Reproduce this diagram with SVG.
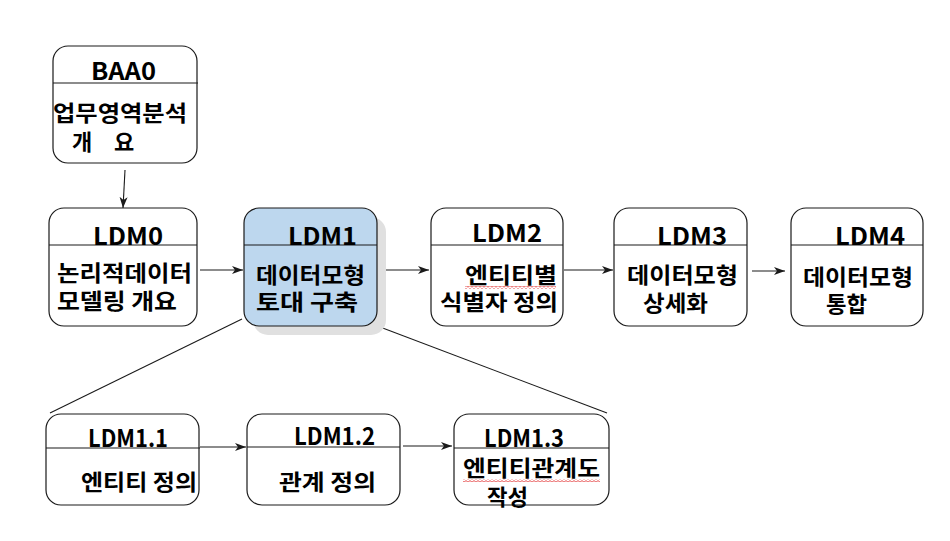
<svg xmlns="http://www.w3.org/2000/svg" width="950" height="541" viewBox="0 0 950 541">
<style>
.box{fill:#ffffff;stroke:#1a1a1a;stroke-width:1.2}
.div{stroke:#1a1a1a;stroke-width:1.2}
.t{font-family:"Noto Sans CJK KR","Liberation Sans",sans-serif;font-size:24px;font-weight:bold;fill:#000}
.k{font-family:"Noto Sans CJK KR","Liberation Sans",sans-serif;font-size:22px;font-weight:bold;fill:#000}
.c{stroke:#1a1a1a;stroke-width:1.1;fill:none}
.wave{fill:url(#wv)}
</style>
<defs>
<marker id="ah" markerWidth="12" markerHeight="10" refX="11" refY="5" orient="auto" markerUnits="userSpaceOnUse">
<path d="M0,1 L11,5 L0,9 L3,5 z" fill="#1a1a1a"/>
</marker>
<pattern id="wv" width="4" height="3" patternUnits="userSpaceOnUse">
<path d="M0,2.2 L2,0.6 L4,2.2" fill="none" stroke="#e02020" stroke-width="0.8"/>
</pattern>
</defs>
<rect width="950" height="541" fill="#ffffff"/>

<g id="connectors">
<line class="c" x1="125" y1="170" x2="123" y2="208" marker-end="url(#ah)"/>
<line class="c" x1="200" y1="270" x2="243" y2="270" marker-end="url(#ah)"/>
<line class="c" x1="378" y1="270" x2="429" y2="270" marker-end="url(#ah)"/>
<line class="c" x1="564" y1="270" x2="613" y2="270" marker-end="url(#ah)"/>
<line class="c" x1="752" y1="271" x2="785" y2="271" marker-end="url(#ah)"/>
<line class="c" x1="242" y1="319" x2="50" y2="413"/>
<line class="c" x1="380" y1="327" x2="607" y2="413"/>
<line class="c" x1="200" y1="447" x2="246" y2="447" marker-end="url(#ah)"/>
<line class="c" x1="403" y1="446" x2="452" y2="446" marker-end="url(#ah)"/>
</g>

<g id="BAA0">
<rect class="box" x="53" y="46" width="144" height="117" rx="15"/>
<line class="div" x1="53" y1="83" x2="198" y2="83"/>
<text class="t" x="91" y="80" textLength="65" lengthAdjust="spacingAndGlyphs">BAA0</text>
<text class="k" x="53" y="121" textLength="134" lengthAdjust="spacingAndGlyphs">업무영역분석</text>
<text class="k" x="72" y="150">개</text>
<text class="k" x="114" y="150">요</text>
</g>

<g id="LDM0">
<rect class="box" x="49" y="208" width="148" height="118" rx="15"/>
<line class="div" x1="49" y1="245" x2="197" y2="245"/>
<text class="t" x="93" y="245" textLength="70" lengthAdjust="spacingAndGlyphs">LDM0</text>
<text class="k" x="57" y="281" textLength="135" lengthAdjust="spacingAndGlyphs">논리적데이터</text>
<text class="k" x="57" y="309" textLength="120" lengthAdjust="spacingAndGlyphs">모델링 개요</text>
</g>

<g id="LDM1">
<rect x="253" y="217" width="133" height="118" rx="15" fill="#e0e0e0"/>
<rect class="box" x="244" y="208" width="133" height="118" rx="15" style="fill:#bdd7ee"/>
<line class="div" x1="244" y1="245" x2="377" y2="245"/>
<text class="t" x="288" y="245" textLength="69" lengthAdjust="spacingAndGlyphs">LDM1</text>
<text class="k" x="256" y="283" textLength="109" lengthAdjust="spacingAndGlyphs">데이터모형</text>
<text class="k" x="256" y="310" textLength="102" lengthAdjust="spacingAndGlyphs">토대 구축</text>
</g>

<g id="LDM2">
<rect class="box" x="431" y="208" width="132" height="118" rx="15"/>
<line class="div" x1="431" y1="245" x2="563" y2="245"/>
<text class="t" x="472" y="242" textLength="70" lengthAdjust="spacingAndGlyphs">LDM2</text>
<text class="k" x="465" y="283" textLength="92" lengthAdjust="spacingAndGlyphs">엔티티별</text>
<rect class="wave" x="465" y="286" width="91" height="3"/>
<text class="k" x="440" y="310" textLength="118" lengthAdjust="spacingAndGlyphs">식별자 정의</text>
</g>

<g id="LDM3">
<rect class="box" x="614" y="208" width="133" height="118" rx="15"/>
<line class="div" x1="614" y1="245" x2="747" y2="245"/>
<text class="t" x="657" y="245" textLength="70" lengthAdjust="spacingAndGlyphs">LDM3</text>
<text class="k" x="627" y="283" textLength="111" lengthAdjust="spacingAndGlyphs">데이터모형</text>
<text class="k" x="643" y="311" textLength="65" lengthAdjust="spacingAndGlyphs">상세화</text>
</g>

<g id="LDM4">
<rect class="box" x="791" y="208" width="132" height="118" rx="15"/>
<line class="div" x1="791" y1="245" x2="923" y2="245"/>
<text class="t" x="835" y="245" textLength="70" lengthAdjust="spacingAndGlyphs">LDM4</text>
<text class="k" x="803" y="285" textLength="110" lengthAdjust="spacingAndGlyphs">데이터모형</text>
<text class="k" x="826" y="312" textLength="41" lengthAdjust="spacingAndGlyphs">통합</text>
</g>

<g id="LDM1.1">
<rect class="box" x="46" y="414" width="153" height="91" rx="15"/>
<line class="div" x1="46" y1="448" x2="200" y2="448"/>
<text class="t" x="88" y="447" textLength="80" lengthAdjust="spacingAndGlyphs">LDM1.1</text>
<text class="k" x="81" y="490" textLength="116" lengthAdjust="spacingAndGlyphs">엔티티 정의</text>
</g>

<g id="LDM1.2">
<rect class="box" x="247" y="414" width="153" height="91" rx="15"/>
<line class="div" x1="247" y1="447" x2="400" y2="447"/>
<text class="t" x="294" y="445" textLength="81" lengthAdjust="spacingAndGlyphs">LDM1.2</text>
<text class="k" x="279" y="490" textLength="97" lengthAdjust="spacingAndGlyphs">관계 정의</text>
</g>

<g id="LDM1.3">
<rect class="box" x="454" y="414" width="155" height="91" rx="15"/>
<line class="div" x1="454" y1="448" x2="609" y2="448"/>
<text class="t" x="484" y="447" textLength="80" lengthAdjust="spacingAndGlyphs">LDM1.3</text>
<text class="k" x="463" y="476" textLength="137" lengthAdjust="spacingAndGlyphs">엔티티관계도</text>
<rect class="wave" x="463" y="479" width="137" height="3"/>
<text class="k" x="487" y="505" textLength="41" lengthAdjust="spacingAndGlyphs">작성</text>
</g>
</svg>
